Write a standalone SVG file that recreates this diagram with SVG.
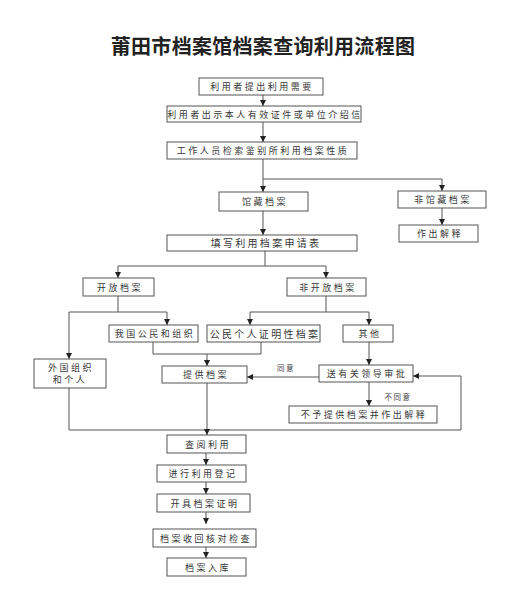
<svg xmlns="http://www.w3.org/2000/svg" width="526" height="616" viewBox="0 0 526 616">
<style>
.bg{fill:#fff}
.box{fill:#fff;stroke:#555;stroke-width:1}
.t{font-family:"Liberation Sans","Noto Sans CJK SC",sans-serif;font-size:9px;letter-spacing:2.5px;fill:#383838;text-anchor:middle;dominant-baseline:central}
.tb{font-size:10px;letter-spacing:2.3px}
.s{font-family:"Liberation Sans","Noto Sans CJK SC",sans-serif;font-size:7.5px;letter-spacing:1.5px;fill:#444;text-anchor:middle;dominant-baseline:central}
.title{font-family:"Noto Sans CJK SC",sans-serif;font-size:20px;font-weight:bold;fill:#222;text-anchor:middle;dominant-baseline:central}
.c{fill:none;stroke:#555;stroke-width:1}
.a{marker-end:url(#ah)}
</style>
<defs>
<marker id="ah" viewBox="0 0 6 6" refX="6" refY="3" markerWidth="6" markerHeight="6" markerUnits="userSpaceOnUse" orient="auto">
<path d="M0,0 L6,3 L0,6 z" fill="#222"/>
</marker>
</defs>
<rect class="bg" x="0" y="0" width="526" height="616"/>
<text class="title" x="263" y="45" style="letter-spacing:0.3px">莆田市档案馆档案查询利用流程图</text>

<g id="connectors">
<path class="c a" d="M263,95 V106"/>
<path class="c a" d="M263,122 V142"/>
<path class="c a" d="M263,159 V192"/>
<path class="c a" d="M263,179 H442 V191"/>
<path class="c a" d="M442,208 V225"/>
<path class="c a" d="M263,211 V235"/>
<path class="c" d="M265,251 V266"/>
<path class="c a" d="M118,266 H326 V278"/>
<path class="c a" d="M118,266 V278"/>
<path class="c" d="M118,296 V312"/>
<path class="c a" d="M69,312 H167 V325"/>
<path class="c a" d="M69,312 V359"/>
<path class="c" d="M326,296 V312"/>
<path class="c a" d="M250,312 H369 V325"/>
<path class="c a" d="M250,312 V325"/>
<path class="c" d="M153,342 V354 H261 V342"/>
<path class="c a" d="M207,354 V366"/>
<path class="c a" d="M369,342 V365"/>
<path class="c a" d="M319,377 H247"/>
<path class="c a" d="M369,382 V406"/>
<path class="c a" d="M69,388 V430 H461 V376 H413"/>
<path class="c a" d="M207,383 V435"/>
<path class="c a" d="M206,453 V465"/>
<path class="c a" d="M206,482 V494"/>
<path class="c a" d="M206,512 V524"/>
<path class="c a" d="M206,547 V558"/>
<text class="s" x="286" y="368">同意</text>
<text class="s" x="398" y="397">不同意</text>
</g>

<g id="n1"><rect class="box" x="199" y="78" width="124" height="17"/><text class="t" x="262" y="87">利用者提出利用需要</text></g>
<g id="n2"><rect class="box" x="167" y="106" width="194" height="16"/><text class="t" x="265" y="114.5">利用者出示本人有效证件或单位介绍信</text></g>
<g id="n3"><rect class="box" x="167" y="142" width="190" height="17"/><text class="t" x="263" y="151">工作人员检索鉴别所利用档案性质</text></g>
<g id="n4"><rect class="box" x="219" y="192" width="89" height="19"/><text class="t" x="265" y="202">馆藏档案</text></g>
<g id="n5"><rect class="box" x="398" y="191" width="88" height="17"/><text class="t" x="443" y="200">非馆藏档案</text></g>
<g id="n6"><rect class="box" x="399" y="225" width="79" height="17"/><text class="t" x="440" y="234">作出解释</text></g>
<g id="n7"><rect class="box" x="167" y="235" width="190" height="16"/><text class="t tb" x="266" y="243.5">填写利用档案申请表</text></g>
<g id="n8"><rect class="box" x="83" y="278" width="71" height="18"/><text class="t" x="120" y="287.5">开放档案</text></g>
<g id="n9"><rect class="box" x="287" y="278" width="79" height="18"/><text class="t" x="328" y="287.5">非开放档案</text></g>
<g id="n10"><rect class="box" x="109" y="325" width="89" height="17"/><text class="t" x="155" y="334">我国公民和组织</text></g>
<g id="n11"><rect class="box" x="207" y="325" width="113" height="17"/><text class="t tb" x="265" y="334">公民个人证明性档案</text></g>
<g id="n12"><rect class="box" x="343" y="325" width="50" height="17"/><text class="t" x="370" y="334">其他</text></g>
<g id="n13"><rect class="box" x="34" y="359" width="72" height="29"/><text class="t" x="71" y="367.5">外国组织</text><text class="t" x="70" y="380">和个人</text></g>
<g id="n14"><rect class="box" x="162" y="366" width="85" height="17"/><text class="t" x="206" y="375">提供档案</text></g>
<g id="n15"><rect class="box" x="319" y="365" width="94" height="17"/><text class="t" x="367" y="374">送有关领导审批</text></g>
<g id="n16"><rect class="box" x="289" y="406" width="148" height="17"/><text class="t" x="364" y="415">不予提供档案并作出解释</text></g>
<g id="n17"><rect class="box" x="167" y="435" width="79" height="18"/><text class="t" x="208" y="444.5">查阅利用</text></g>
<g id="n18"><rect class="box" x="157" y="465" width="89" height="17"/><text class="t" x="203" y="474">进行利用登记</text></g>
<g id="n19"><rect class="box" x="157" y="494" width="93" height="18"/><text class="t" x="205" y="503.5">开具档案证明</text></g>
<g id="n20"><rect class="box" x="153" y="529" width="103" height="18"/><text class="t" x="206" y="538.5">档案收回核对检查</text></g>
<g id="n21"><rect class="box" x="167" y="558" width="79" height="18"/><text class="t" x="208" y="567.5">档案入库</text></g>
</svg>
